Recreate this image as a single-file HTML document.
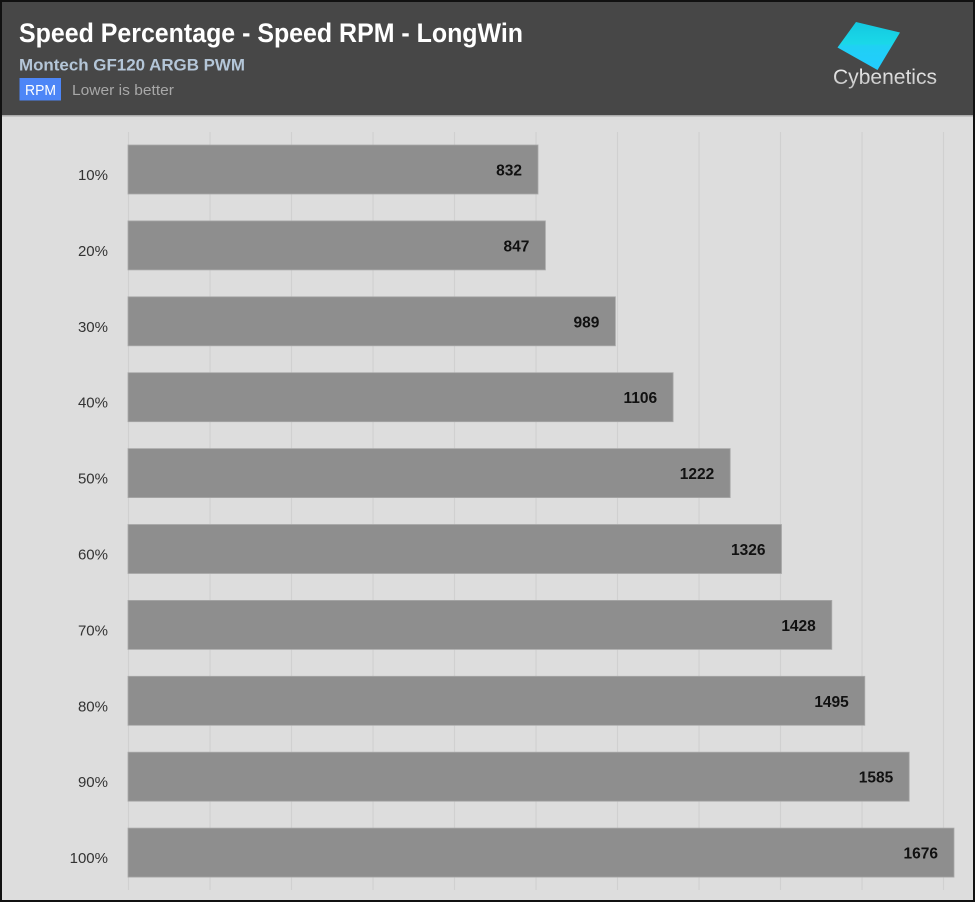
<!DOCTYPE html>
<html><head><meta charset="utf-8"><style>
html,body{margin:0;padding:0;background:#fff;}
svg{display:block;}
</style></head><body>
<svg width="975" height="904" viewBox="0 0 975 904" xmlns="http://www.w3.org/2000/svg">
<defs>
<linearGradient id="cy" x1="0" y1="0" x2="0" y2="1">
<stop offset="0" stop-color="#14c8e0"/><stop offset="0.45" stop-color="#1ad8e8"/><stop offset="0.5" stop-color="#20d0f4"/><stop offset="1" stop-color="#22ccff"/>
</linearGradient>
<linearGradient id="tx" x1="0" y1="0" x2="0" y2="1">
<stop offset="0" stop-color="#f2f2f2"/><stop offset="1" stop-color="#bdbdbd"/>
</linearGradient>
</defs>
<rect x="0" y="0" width="975" height="904" fill="#ffffff"/>
<rect x="0" y="0" width="975" height="902" fill="#111"/>
<rect x="2" y="2" width="971" height="113" fill="#474747"/>
<rect x="2" y="115" width="971" height="1.5" fill="#aaaaaa"/>
<rect x="2" y="116.5" width="971" height="783.5" fill="#dddddd"/>

<text x="19" y="42" font-family="Liberation Sans, sans-serif" font-weight="bold" font-size="27" fill="#ffffff" textLength="504" lengthAdjust="spacingAndGlyphs">Speed Percentage - Speed RPM - LongWin</text>
<text x="19" y="70.5" font-family="Liberation Sans, sans-serif" font-weight="bold" font-size="17" fill="#b4c6d8" textLength="226" lengthAdjust="spacingAndGlyphs">Montech GF120 ARGB PWM</text>
<rect x="19.5" y="78" width="41.5" height="22.5" fill="#4d86f7"/>
<text x="25" y="95" font-family="Liberation Sans, sans-serif" font-size="15" fill="#ffffff" textLength="31" lengthAdjust="spacingAndGlyphs">RPM</text>
<text x="72" y="95" font-family="Liberation Sans, sans-serif" font-size="15" fill="#a8a8a8" textLength="102" lengthAdjust="spacingAndGlyphs">Lower is better</text>

<polygon points="856,22 900,32.5 877.5,70 837.5,47.5" fill="url(#cy)"/>
<text x="833" y="84" font-family="Liberation Sans, sans-serif" font-size="21" fill="url(#tx)" textLength="104" lengthAdjust="spacingAndGlyphs">Cybenetics</text>

<g stroke="#d0d0d0" stroke-width="1.2">
<line x1="128.5" y1="132" x2="128.5" y2="890"/>
<line x1="210" y1="132" x2="210" y2="890"/>
<line x1="291.5" y1="132" x2="291.5" y2="890"/>
<line x1="373" y1="132" x2="373" y2="890"/>
<line x1="454.5" y1="132" x2="454.5" y2="890"/>
<line x1="536" y1="132" x2="536" y2="890"/>
<line x1="617.5" y1="132" x2="617.5" y2="890"/>
<line x1="699" y1="132" x2="699" y2="890"/>
<line x1="780.5" y1="132" x2="780.5" y2="890"/>
<line x1="862" y1="132" x2="862" y2="890"/>
<line x1="943.5" y1="132" x2="943.5" y2="890"/>
</g>

<g fill="#8e8e8e" stroke="#a8a8a8" stroke-width="0.8">
<rect x="128" y="145" width="410" height="49"/>
<rect x="128" y="220.9" width="417.4" height="49"/>
<rect x="128" y="296.8" width="487.4" height="49"/>
<rect x="128" y="372.7" width="545.1" height="49"/>
<rect x="128" y="448.6" width="602.2" height="49"/>
<rect x="128" y="524.5" width="653.5" height="49"/>
<rect x="128" y="600.4" width="703.8" height="49"/>
<rect x="128" y="676.3" width="736.8" height="49"/>
<rect x="128" y="752.2" width="781.2" height="49"/>
<rect x="128" y="828.1" width="826" height="49"/>
</g>

<g font-family="Liberation Sans, sans-serif" font-size="15" fill="#333333" text-anchor="end">
<text x="108" y="180">10%</text>
<text x="108" y="255.9">20%</text>
<text x="108" y="331.8">30%</text>
<text x="108" y="407.7">40%</text>
<text x="108" y="483.6">50%</text>
<text x="108" y="559.5">60%</text>
<text x="108" y="635.4">70%</text>
<text x="108" y="711.3">80%</text>
<text x="108" y="787.2">90%</text>
<text x="108" y="863.1">100%</text>
</g>

<g font-family="Liberation Sans, sans-serif" font-size="15.5" font-weight="bold" fill="#111111" text-anchor="end">
<text x="522" y="175.5">832</text>
<text x="529.4" y="251.4">847</text>
<text x="599.4" y="327.3">989</text>
<text x="657.1" y="403.2">1106</text>
<text x="714.2" y="479.1">1222</text>
<text x="765.5" y="555">1326</text>
<text x="815.8" y="630.9">1428</text>
<text x="848.8" y="706.8">1495</text>
<text x="893.2" y="782.7">1585</text>
<text x="938" y="858.6">1676</text>
</g>
</svg>
</body></html>
